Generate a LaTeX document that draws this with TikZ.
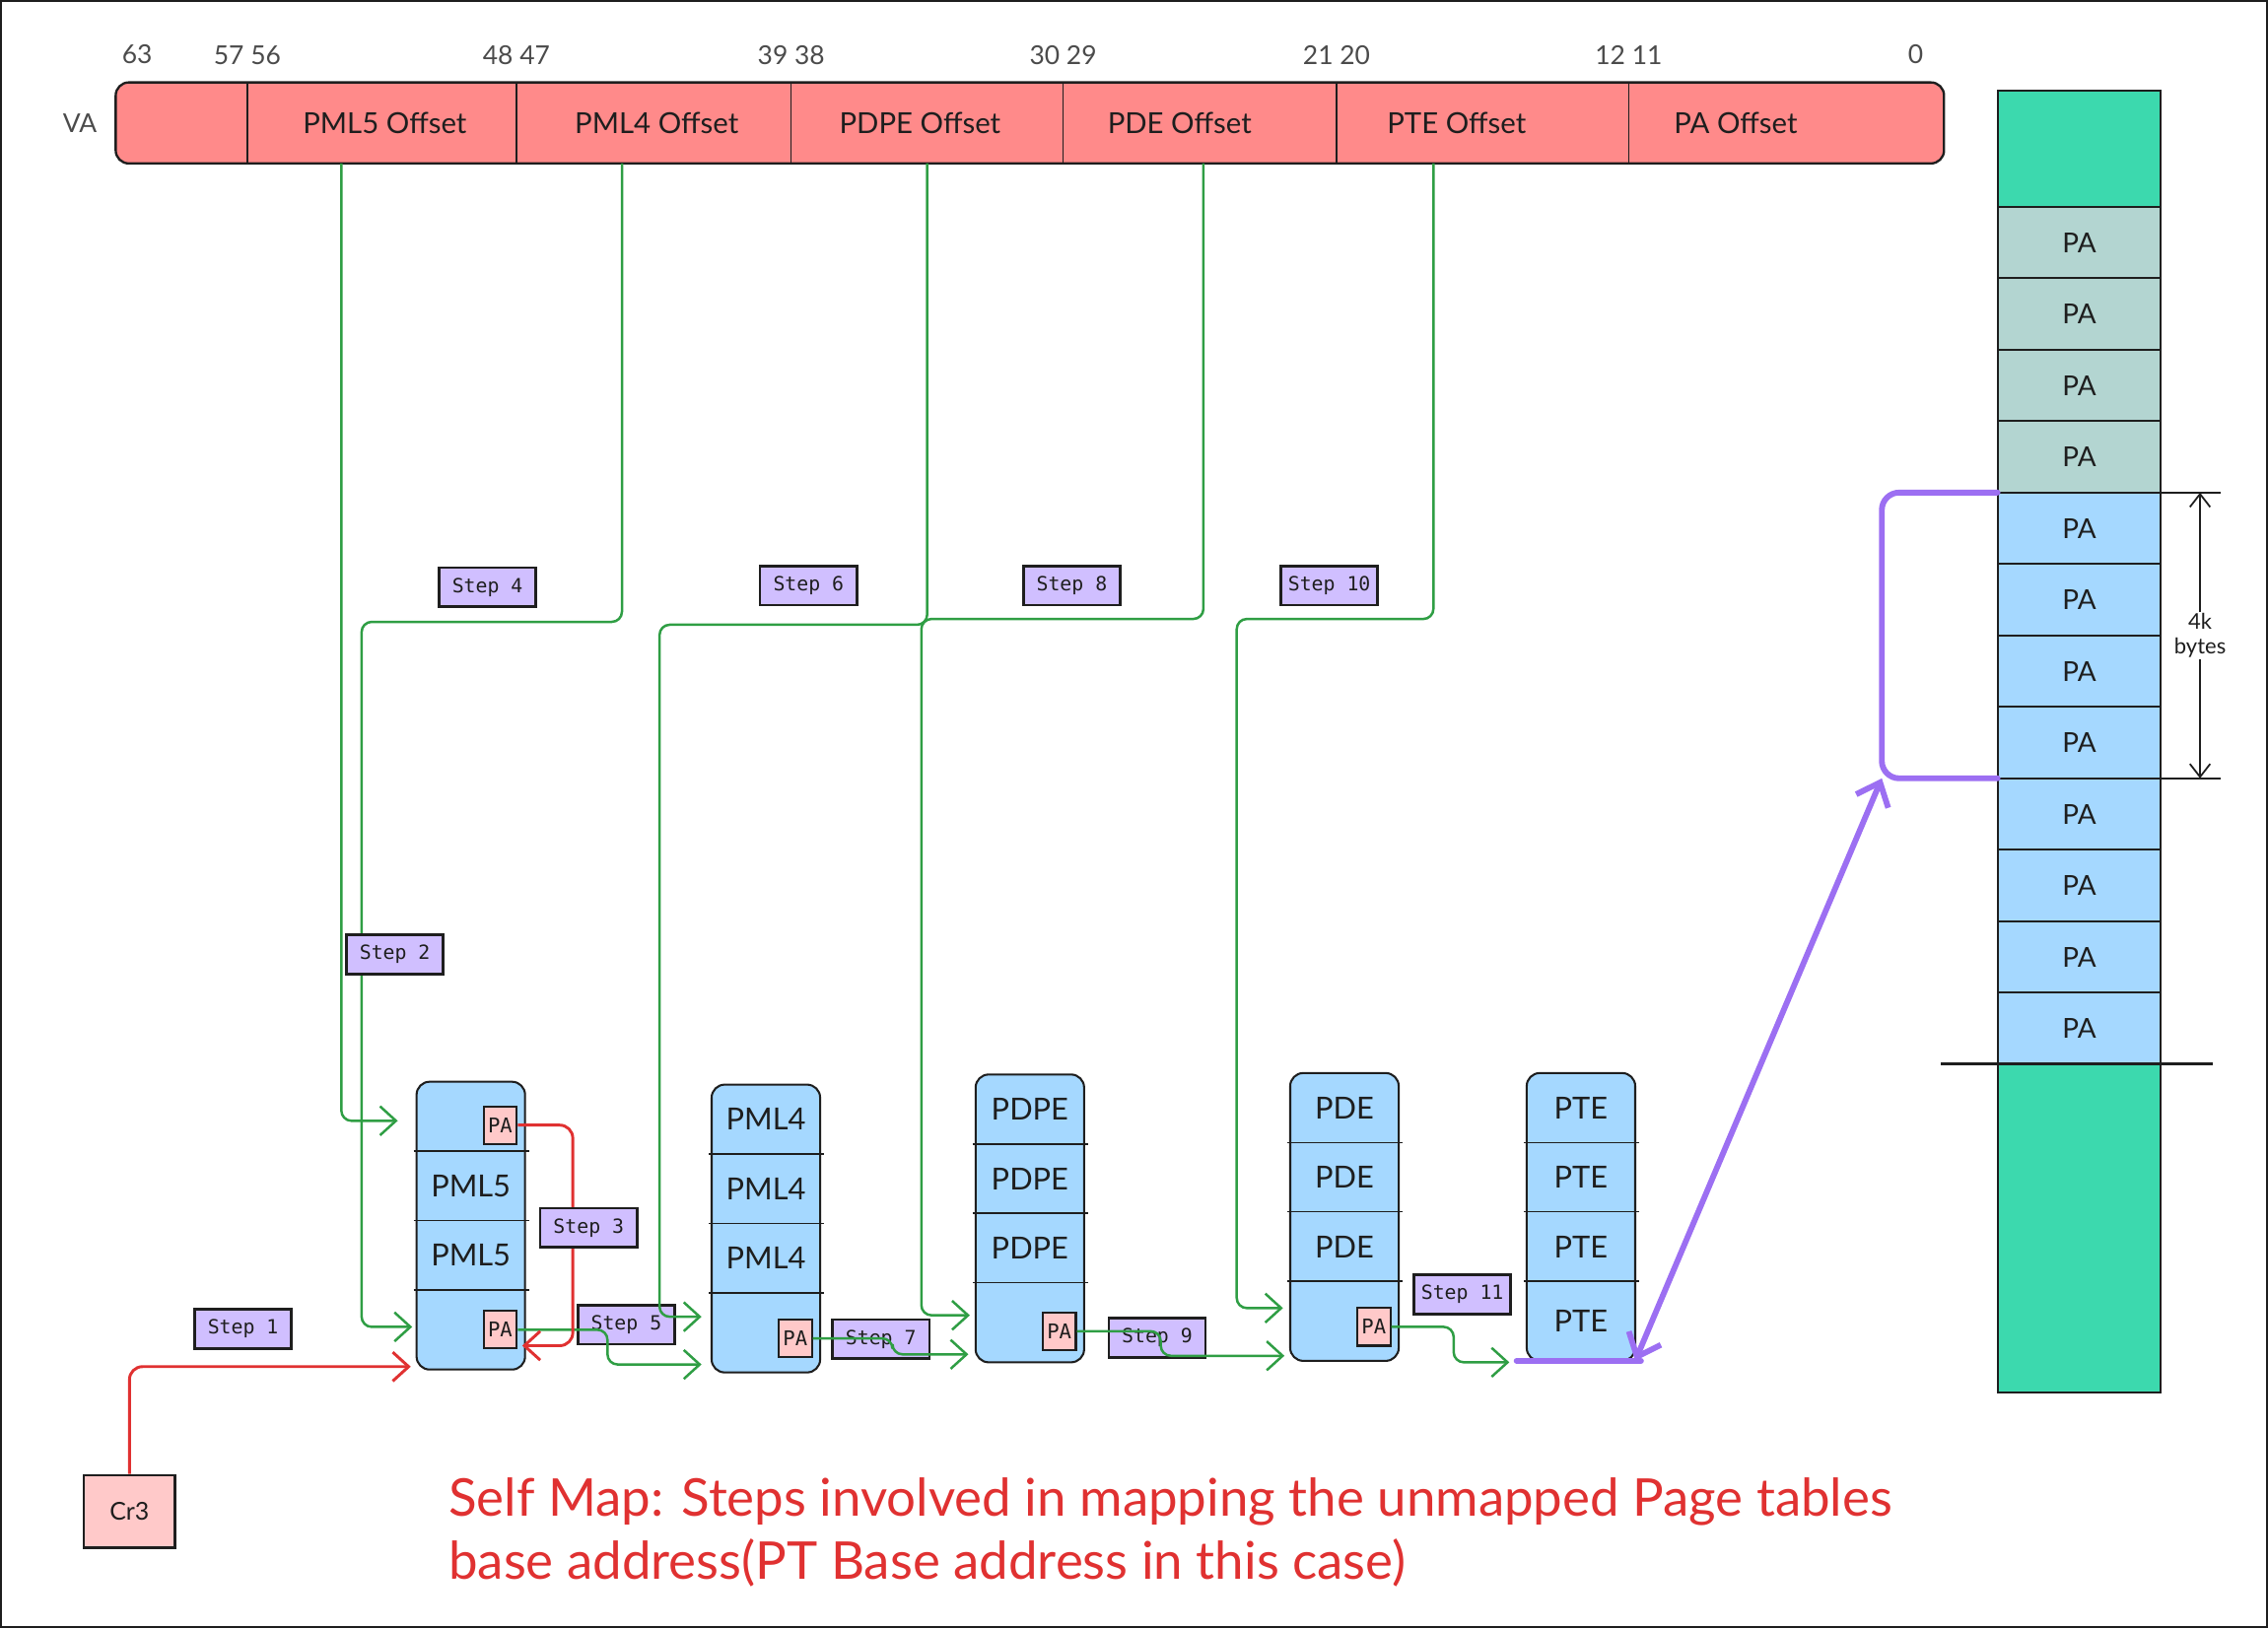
\documentclass[tikz,border=0pt]{standalone}
\usepackage{fontspec}
\setmainfont{Lato}
\newfontfamily\monofont{DejaVu Sans Mono}
\usepackage{xcolor}
\usetikzlibrary{arrows.meta,positioning,fit,backgrounds,calc}
\definecolor{ink}{HTML}{1E1E1E}
\definecolor{vared}{HTML}{FF8A8A}
\definecolor{tblue}{HTML}{A5D8FF}
\definecolor{pabg}{HTML}{FFC9C9}
\definecolor{lilac}{HTML}{D0BFFF}
\definecolor{walkgreen}{HTML}{2F9E44}
\definecolor{cr3red}{HTML}{E03131}
\definecolor{selfviolet}{HTML}{9C6FF2}
\definecolor{memgreen}{HTML}{3CD9AE}
\definecolor{memgrey}{HTML}{B3D5D1}

\tikzset{
  barb/.style={-{Straight Barb[length=11pt,width=20pt]}},
}

\begin{document}
\begin{tikzpicture}[x=1pt, y=-1pt, node distance=0pt,
  seg/.style={minimum height=56pt, inner sep=0pt, outer sep=0pt},
  offlbl/.style={font=\fontsize{20}{24}\selectfont, text=ink},
  bits/.style={inner sep=0pt, font=\fontsize{18}{20}\selectfont, text=ink!80},
  row/.style={minimum width=75pt, minimum height=48pt, inner sep=0pt, outer sep=0pt, font=\fontsize{21}{24}\selectfont, text=ink},
  lastrow/.style={row, minimum height=55pt},
  tbl/.style={draw=ink, fill=tblue, rounded corners=9pt, line width=1.4pt, inner sep=0pt},
  rowline/.style={draw=ink, line width=1pt},
  pabox/.style={draw=ink, fill=pabg, line width=1.4pt, minimum width=23pt, minimum height=26pt, inner sep=0pt, font=\monofont\fontsize{14}{15}\selectfont, text=ink},
  stepbox/.style={draw=ink, fill=lilac, line width=1.8pt, minimum width=67pt, minimum height=27pt, inner sep=0pt, font=\monofont\fontsize{13.5}{15}\selectfont, text=ink},
  mem/.style={draw=ink, line width=1.4pt, minimum width=113pt, minimum height=49.4pt, inner sep=0pt, outer sep=0pt, font=\fontsize{19}{22}\selectfont, text=ink},
  walk/.style={draw=walkgreen, line width=1.7pt, rounded corners=7pt, barb, shorten >=5pt},
  cr3path/.style={draw=cr3red, line width=2pt, rounded corners=9pt, barb, shorten >=4pt},
  selfmap/.style={draw=selfviolet, line width=4pt, line cap=round, rounded corners=12pt},
]
  \useasboundingbox (0,0) rectangle (1568,1126);
  \draw[ink, line width=1.5pt] (0.75,0.75) rectangle (1567.25,1125.25);

  % virtual address
  \node[seg, minimum width=91pt] (va0) at (125.5,85) {};
  \node[seg, minimum width=186pt, right=of va0] (off5) {};
  \node[seg, minimum width=190pt, right=of off5] (off4) {};
  \node[seg, minimum width=188pt, right=of off4] (off3) {};
  \node[seg, minimum width=189pt, right=of off3] (off2) {};
  \node[seg, minimum width=202pt, right=of off2] (off1) {};
  \node[seg, minimum width=218pt, right=of off1] (off0) {};
  \begin{scope}[on background layer]
    \node[draw=ink, fill=vared, line width=1.6pt, rounded corners=9pt, inner sep=0pt, fit=(va0)(off0)] (va) {};
  \end{scope}
  \foreach \s/\tb/\dx in {off5/PML5/2, off4/PML4/2, off3/PDPE/-5, off2/PDE/-14, off1/PTE/-18, off0/PA/-35} {
    \draw[rowline] (\s.north west) -- (\s.south west);
    \node[offlbl] (\s-txt) at ([xshift=\dx pt]\s.center) {\tb{} Offset};
  }
  \foreach \s/\tb in {off5/57 56, off4/48 47, off3/39 38, off2/30 29, off1/21 20, off0/12 11}
    \node[bits, above=12pt of \s.north west] (\s-bit) {\tb};
  \node[bits, above right=12pt and 5pt of va.north west] (bit63) {63};
  \node[bits, above left=12pt and 15pt of va.north east] (bit0) {0};
  \node[bits, left=12pt of va.west] (valbl) {VA};

  % page tables
  \node[row] (pml5a) at (325.5,772) {};
  \node[row, below=of pml5a] (pml5b) {PML5};
  \node[row, below=of pml5b] (pml5c) {PML5};
  \node[lastrow, below=of pml5c] (pml5d) {};

  \node[row] (pml4a) at (529.5,774) {PML4};
  \node[row, below=of pml4a] (pml4b) {PML4};
  \node[row, below=of pml4b] (pml4c) {PML4};
  \node[lastrow, below=of pml4c] (pml4d) {};

  \node[row] (pdpea) at (712,767) {PDPE};
  \node[row, below=of pdpea] (pdpeb) {PDPE};
  \node[row, below=of pdpeb] (pdpec) {PDPE};
  \node[lastrow, below=of pdpec] (pdped) {};

  \node[row] (pdea) at (929.5,766) {PDE};
  \node[row, below=of pdea] (pdeb) {PDE};
  \node[row, below=of pdeb] (pdec) {PDE};
  \node[lastrow, below=of pdec] (pded) {};

  \node[row] (ptea) at (1093,766) {PTE};
  \node[row, below=of ptea] (pteb) {PTE};
  \node[row, below=of pteb] (ptec) {PTE};
  \node[lastrow, below=of ptec] (pted) {PTE};

  \begin{scope}[on background layer]
    \foreach \tb in {pml5,pml4,pdpe,pde,pte}
      \node[tbl, fit=(\tb a)(\tb d)] (\tb) {};
  \end{scope}
  \foreach \tb in {pml5,pml4,pdpe,pde,pte}
    \foreach \r in {a,b,c}
      \draw[rowline] ([xshift=-2pt]\tb\r.south west) -- ([xshift=3pt]\tb\r.south east);

  \node[pabox, left=5pt of pml5a.east, yshift=-6pt] (pml5pa1) {PA};
  \node[pabox, left=5pt of pml5d.east] (pml5pa2) {PA};
  \node[pabox, left=5pt of pml4d.east, yshift=-4pt] (pml4pa) {PA};
  \node[pabox, left=5pt of pdped.east, yshift=-6pt] (pdpepa) {PA};
  \node[pabox, left=5pt of pded.east, yshift=-4pt] (pdepa) {PA};

  % physical memory
  \node[mem, fill=memgreen, minimum height=80pt] (m0) at (1437.5,103) {};
  \foreach \i [evaluate=\i as \p using int(\i-1)] in {1,...,4}
    \node[mem, fill=memgrey, below=of m\p] (m\i) {PA};
  \foreach \i [evaluate=\i as \p using int(\i-1)] in {5,...,12}
    \node[mem, fill=tblue, below=of m\p] (m\i) {PA};
  \node[mem, fill=memgreen, minimum height=227pt, below=of m12] (m13) {};
  \draw[ink, line width=1.8pt] ($(m12.south west)+(-39,0)$) -- ($(m12.south east)+(36,0)$);

  \draw[ink, line width=1.2pt] (m5.north east) -- ++(41,0);
  \draw[ink, line width=1.2pt] (m8.south east) -- ++(41,0);
  \draw[ink, line width=1.2pt, {Straight Barb[length=9pt,width=14pt]}-{Straight Barb[length=9pt,width=14pt]}]
    ($(m5.north east)+(27,0)$) -- node[fill=white, inner sep=1pt, align=center, font=\fontsize{15}{17}\selectfont, text=ink] (kb) {4k\\bytes} ($(m8.south east)+(27,0)$);

  % steps
  \node[stepbox] (s1) at (168,919) {Step 1};
  \node[stepbox] (s4) at (337,406) {Step 4};
  \node[stepbox] (s5) at (433,916) {Step 5};
  \node[stepbox] (s6) at (559,405) {Step 6};
  \node[stepbox] (s7) at (609,926) {Step 7};
  \node[stepbox] (s8) at (741,405) {Step 8};
  \node[stepbox] (s9) at (800,925) {Step 9};
  \node[stepbox] (s10) at (919,405) {Step 10};
  \node[stepbox] (s11) at (1011,895) {Step 11};

  % offsets into the tables
  \draw[walk, shorten >=13pt] ($(off5.south)+(-28,0)$) |- ([yshift=-3pt]pml5a.west);
  \draw[walk, shorten >=3pt] ($(off4.south)+(-22,0)$) -- ++(0,317) -- ++(-180,0) |- ([yshift=2pt]pml5d.west);
  \draw[walk, shorten >=7pt] (off3.south) -- ++(0,319) -- ++(-185,0) |- ([yshift=11pt]pml4d.west);
  \draw[walk, shorten >=4pt] ($(off2.south)+(2.5,0)$) -- ++(0,315) -- ++(-195,0) |- ([yshift=5pt]pdped.west);
  \draw[walk] ($(off1.south)+(-34,0)$) -- ++(0,315) -- ++(-136,0) |- ([yshift=9pt]pded.west);

  % base of next table
  \draw[walk, shorten >=7pt] (pml5pa2.east) -- ++(62,0) |- ([yshift=-22pt]pml4d.west);
  \draw[walk] (pml4pa.east) -- ++(55,0) |- ([yshift=-22pt]pdped.west);
  \draw[walk, shorten >=4pt] (pdpepa.east) -- ++(58,0) |- ([yshift=-24pt]pded.west);
  \draw[walk, shorten >=12pt] (pdepa.east) -- ++(43,0) |- ([yshift=-1pt]pted.south west);

  % cr3 and the self entry
  \node[draw=ink, fill=pabg, line width=1.8pt, minimum width=63pt, minimum height=50pt, font=\fontsize{17}{20}\selectfont, text=ink] (cr3) at (89.5,1045) {Cr3};
  \draw[cr3path] (cr3.north) |- ([yshift=2pt]pml5d.south west);
  \draw[cr3path, shorten >=3pt] (pml5pa1.east) -- ++(38,0) |- ([yshift=-11pt]pml5pa2.east);

  \node[stepbox] (s2) at (273,660) {Step 2};
  \node[stepbox] (s3) at (407,849) {Step 3};

  % self map loop
  \coordinate (loopb) at ($(m8.south west)+(-80,0)$);
  \draw[selfmap] (m5.north west) -- ++(-80,0) -- (loopb) -- (m8.south west);
  \draw[selfmap, {Straight Barb[length=14pt,width=24pt]}-{Straight Barb[length=14pt,width=24pt]}] (loopb) -- (pted.south east);
  \draw[selfmap] ([xshift=-7pt]pted.south west) -- ([xshift=4pt]pted.south east);

  \node[anchor=north west, align=left, inner sep=0pt, text=cr3red, font=\fontsize{36}{43}\selectfont] (caption) at (310,1022)
    {Self Map: Steps involved in mapping the unmapped Page tables\\base address(PT Base address in this case)};
\end{tikzpicture}
\end{document}
